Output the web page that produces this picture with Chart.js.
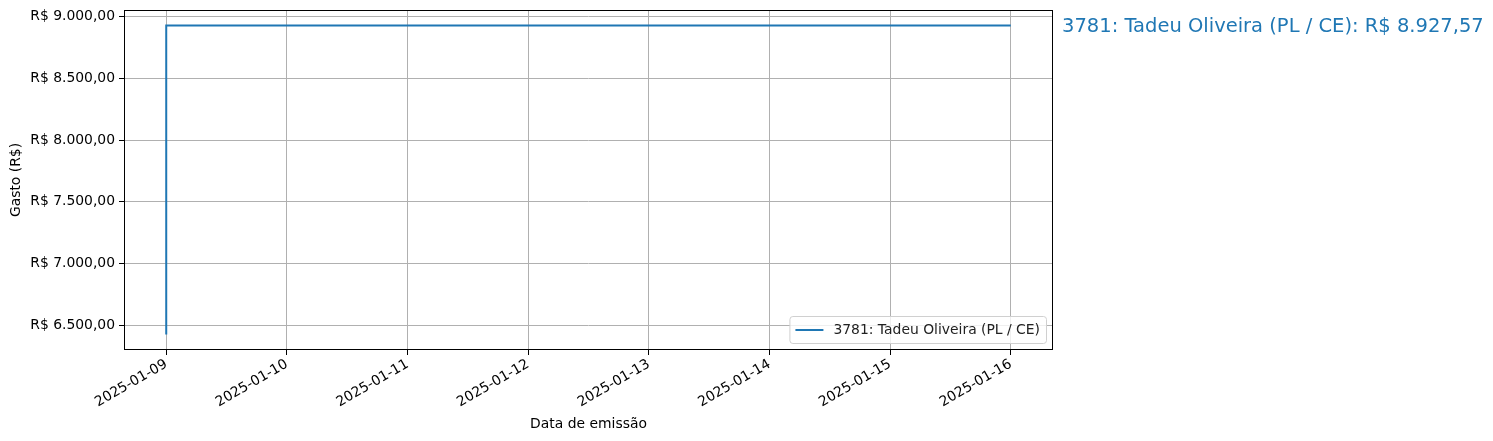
<!DOCTYPE html>
<html>
<head>
<meta charset="utf-8">
<script src="https://cdn.jsdelivr.net/npm/chart.js@4.4.1/dist/chart.umd.min.js"></script>
<style>
html,body{margin:0;padding:0;background:#fff;}
#wrap{width:1493px;height:441px;position:relative;}
canvas{display:block;}
</style>
</head>
<body>
<div id="wrap"><canvas id="c" width="1493" height="441"></canvas></div>
<script>
// ---- data ----
const seriesName = "3781: Tadeu Oliveira (PL / CE)";
const dates = ["2025-01-09", "2025-01-09", "2025-01-16"];
const values = [6425, 8927.57, 8927.57];
const xTickDates = ["2025-01-09","2025-01-10","2025-01-11","2025-01-12","2025-01-13","2025-01-14","2025-01-15","2025-01-16"];
const yTickValues = [6500, 7000, 7500, 8000, 8500, 9000];
const finalLabel = "3781: Tadeu Oliveira (PL / CE): R$ 8.927,57";

const toMs = s => Date.parse(s + "T00:00:00Z");
const fmtDate = ms => new Date(ms).toISOString().slice(0,10);
const fmtBRL = v => "R$ " + v.toLocaleString("pt-BR",{minimumFractionDigits:2,maximumFractionDigits:2});

const pts = dates.map((d,i)=>({x:toMs(d), y:values[i]}));
const xs = pts.map(p=>p.x), ys = values;
const xMin = Math.min(...xs), xMax = Math.max(...xs);
const yMin = Math.min(...ys), yMax = Math.max(...ys);
const xm = (xMax-xMin)*0.05, ym = (yMax-yMin)*0.05;

const FONT = "'DejaVu Sans', sans-serif";
const FS = 13.9;
const color = "#1f77b4";

const framePlugin = {
  id:'frame',
  afterDraw(chart){
    const {ctx, chartArea:a} = chart;
    ctx.save();
    ctx.strokeStyle = '#000'; ctx.lineWidth = 1;
    ctx.strokeRect(Math.round(a.left)+0.5, Math.round(a.top)+0.5, Math.round(a.right-a.left)-1, Math.round(a.bottom-a.top)-1);
    // legend lower right
    ctx.font = FS + "px " + FONT;
    const tw = ctx.measureText(seriesName).width;
    const bw = tw + 50, bh = 27;
    const bx = a.right - 7 - bw, by = a.bottom - 7 - bh;
    ctx.fillStyle = 'rgba(255,255,255,0.8)';
    ctx.strokeStyle = '#d0d0d0';
    ctx.beginPath();
    if (ctx.roundRect) ctx.roundRect(bx+0.5, by+0.5, bw, bh, 3); else ctx.rect(bx+0.5,by+0.5,bw,bh);
    ctx.fill(); ctx.stroke();
    ctx.strokeStyle = color; ctx.lineWidth = 2;
    ctx.beginPath(); ctx.moveTo(bx+6, by+bh/2+0.5); ctx.lineTo(bx+34, by+bh/2+0.5); ctx.stroke();
    ctx.fillStyle = '#222'; ctx.textBaseline = 'middle'; ctx.textAlign='left';
    ctx.fillText(seriesName, bx+44, by+bh/2+1);
    // final value annotation
    const ysc = chart.scales.y;
    ctx.font = "19.5px " + FONT;
    ctx.fillStyle = color;
    ctx.fillText(finalLabel, a.right + 9, ysc.getPixelForValue(values[values.length-1]) + 1);
    ctx.restore();
  }
};

new Chart(document.getElementById('c'), {
  type:'line',
  data:{datasets:[{
    label: seriesName,
    data: pts,
    borderColor: color,
    backgroundColor: color,
    borderWidth: 2,
    pointRadius: 0,
    tension: 0,
    fill: false
  }]},
  options:{
    responsive:false,
    animation:false,
    layout:{padding:{left:0, right:440, top:10, bottom:0}},
    plugins:{legend:{display:false}, tooltip:{enabled:false}},
    scales:{
      x:{
        type:'linear',
        min: xMin - xm, max: xMax + xm,
        afterBuildTicks(s){ s.ticks = xTickDates.map(d=>({value:toMs(d)})); },
        afterFit(s){ s.height = 91; s.paddingLeft = 0; s.paddingRight = 0; },
        ticks:{
          callback:v=>fmtDate(v),
          minRotation:30, maxRotation:30, autoSkip:false,
          color:'#000', font:{family:FONT, size:FS}, padding:1
        },
        grid:{color:'#b0b0b0', lineWidth:1, tickColor:'#000', tickLength:5, drawTicks:true},
        border:{display:false},
        title:{display:true, text:'Data de emissão', color:'#000', font:{family:FONT, size:FS}, padding:{top:0,bottom:8}}
      },
      y:{
        type:'linear',
        min: yMin - ym, max: yMax + ym,
        afterBuildTicks(s){ s.ticks = yTickValues.map(v=>({value:v})); },
        afterFit(s){ s.width = 124; s.paddingTop = 0; s.paddingBottom = 0; },
        ticks:{
          callback:v=>fmtBRL(v),
          color:'#000', font:{family:FONT, size:FS}, padding:4
        },
        grid:{color:'#b0b0b0', lineWidth:1, tickColor:'#000', tickLength:5, drawTicks:true},
        border:{display:false},
        title:{display:true, text:'Gasto (R$)', color:'#000', font:{family:FONT, size:FS}, padding:{top:8,bottom:0}}
      }
    }
  },
  plugins:[framePlugin]
});
</script>
</body>
</html>
